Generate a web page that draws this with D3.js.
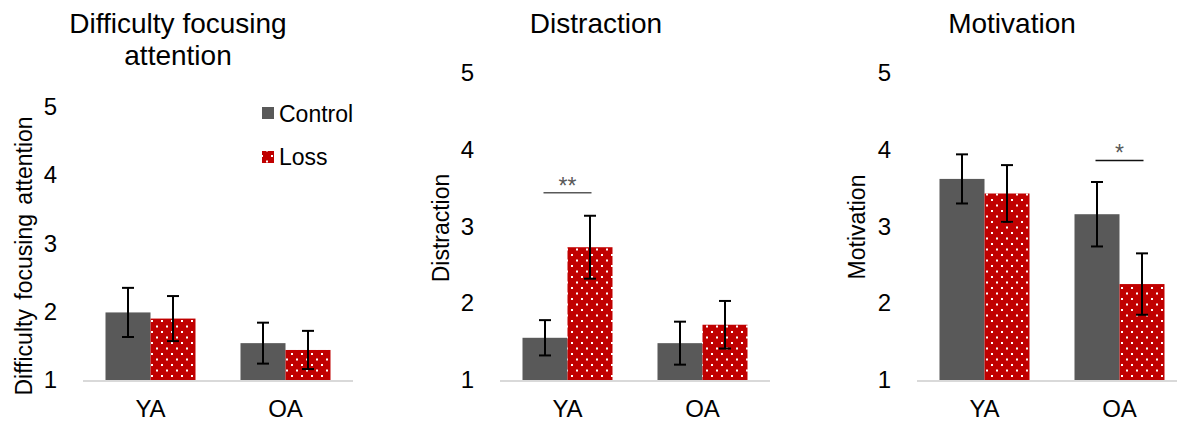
<!DOCTYPE html>
<html>
<head>
<meta charset="utf-8">
<script src="https://cdn.jsdelivr.net/npm/d3@7"></script>
<style>
  body { margin: 0; background: #fff; }
  svg { display: block; font-family: "Liberation Sans", Arial, sans-serif; }
</style>
</head>
<body>
<div id="graph"></div>
<script>
// Datos de la grafica
const grupos = ["YA", "OA"];
const series = ["Control", "Loss"];
const ticksY = [1, 2, 3, 4, 5];

// Medias y errores de cada panel: [grupo][serie]
const mediasDificultad = [[1.99, 1.90], [1.54, 1.44]];
const errDificultad = [[0.36, 0.33], [0.30, 0.28]];
const mediasDistraccion = [[1.55, 2.73], [1.48, 1.72]];
const errDistraccion = [[0.23, 0.41], [0.28, 0.31]];
const mediasMotivacion = [[3.62, 3.43], [3.16, 2.25]];
const errMotivacion = [[0.32, 0.37], [0.42, 0.40]];

// Marcas de significancia: grupo, texto y altura de la linea
const sigDistraccion = [{grupo: "YA", texto: "**", y: 3.44}];
const sigMotivacion = [{grupo: "OA", texto: "*", y: 3.86}];

// Colores
const colorControl = "#595959";
const colorLoss = "#c00000";

const W = 1177, H = 422;

// Configuracion de cada panel (solo posiciones)
const paneles = [
  {titulo: ["Difficulty focusing", "attention"], ejeY: "Difficulty focusing attention",
   medias: mediasDificultad, errores: errDificultad, sig: [], sigColor: "#595959",
   x0: 83, yTop: 107, tituloX: 178, ejeYx: 32, ejeYy: 256, leyenda: true},
  {titulo: ["Distraction"], ejeY: "Distraction",
   medias: mediasDistraccion, errores: errDistraccion, sig: sigDistraccion, sigColor: "#595959",
   x0: 500, yTop: 73, tituloX: 596, ejeYx: 449, ejeYy: 228, leyenda: false},
  {titulo: ["Motivation"], ejeY: "Motivation",
   medias: mediasMotivacion, errores: errMotivacion, sig: sigMotivacion, sigColor: "#111",
   x0: 917, yTop: 73, tituloX: 1012, ejeYx: 865, ejeYy: 227, leyenda: false}
];

const yBase = 380;
const anchoPlot = 270;

const svg = d3.select("#graph").append("svg")
  .attr("width", W)
  .attr("height", H);

// Patron de puntos blancos para la serie Loss
const patron = svg.append("defs").append("pattern")
  .attr("id", "puntos")
  .attr("patternUnits", "userSpaceOnUse")
  .attr("width", 10)
  .attr("height", 11);
patron.append("rect").attr("width", 10).attr("height", 11).attr("fill", colorLoss);
patron.append("rect").attr("x", 1).attr("y", 1).attr("width", 2).attr("height", 2).attr("fill", "#fff");
patron.append("rect").attr("x", 6).attr("y", 6.5).attr("width", 2).attr("height", 2).attr("fill", "#fff");

function relleno(i) {
  return i === 0 ? colorControl : "url(#puntos)";
}

// Funcion que dibuja un panel
function dibujarPanel(p) {
  const g = svg.append("g");

  const xScale = d3.scaleBand()
    .domain(grupos)
    .range([p.x0, p.x0 + anchoPlot])
    .paddingInner(1 / 3)
    .paddingOuter(1 / 6);

  const xSerie = d3.scaleBand()
    .domain(series)
    .range([0, xScale.bandwidth()]);

  const yScale = d3.scaleLinear()
    .domain([1, 5])
    .range([yBase, p.yTop]);

  // Titulo
  p.titulo.forEach((t, i) => {
    g.append("text")
      .attr("x", p.tituloX)
      .attr("y", 33 + i * 32)
      .attr("text-anchor", "middle")
      .attr("font-size", 28)
      .attr("fill", "#000")
      .text(t);
  });

  // Titulo del eje Y
  g.append("text")
    .attr("transform", `translate(${p.ejeYx},${p.ejeYy}) rotate(-90)`)
    .attr("text-anchor", "middle")
    .attr("font-size", 23)
    .attr("word-spacing", p.leyenda ? 3 : 0)
    .attr("fill", "#000")
    .text(p.ejeY);

  // Etiquetas del eje Y (sin linea)
  const ejeY = g.append("g")
    .attr("transform", `translate(${p.x0},0)`)
    .call(d3.axisLeft(yScale).tickValues(ticksY).tickFormat(d3.format("d")).tickSize(0).tickPadding(26));
  ejeY.select(".domain").remove();
  ejeY.selectAll("text").attr("font-size", 24).attr("fill", "#000").attr("font-family", null);

  // Barras
  grupos.forEach((gr, gi) => {
    series.forEach((s, si) => {
      const v = p.medias[gi][si];
      g.append("rect")
        .attr("x", xScale(gr) + xSerie(s))
        .attr("y", yScale(v))
        .attr("width", xSerie.bandwidth())
        .attr("height", yScale(1) - yScale(v))
        .attr("fill", relleno(si));
    });
  });

  // Linea base del eje X
  g.append("line")
    .attr("x1", p.x0)
    .attr("x2", p.x0 + anchoPlot)
    .attr("y1", yBase + 1)
    .attr("y2", yBase + 1)
    .attr("stroke", "#d9d9d9")
    .attr("stroke-width", 2);

  // Barras de error
  grupos.forEach((gr, gi) => {
    series.forEach((s, si) => {
      const v = p.medias[gi][si];
      const e = p.errores[gi][si];
      const cx = xScale(gr) + xSerie(s) + xSerie.bandwidth() / 2;
      const eg = g.append("g").attr("stroke", "#000").attr("stroke-width", 2);
      eg.append("line").attr("x1", cx).attr("x2", cx).attr("y1", yScale(v - e)).attr("y2", yScale(v + e));
      eg.append("line").attr("x1", cx - 6).attr("x2", cx + 6).attr("y1", yScale(v - e)).attr("y2", yScale(v - e));
      eg.append("line").attr("x1", cx - 6).attr("x2", cx + 6).attr("y1", yScale(v + e)).attr("y2", yScale(v + e));
    });
  });

  // Etiquetas de categorias
  grupos.forEach(gr => {
    g.append("text")
      .attr("x", xScale(gr) + xScale.bandwidth() / 2)
      .attr("y", 417)
      .attr("text-anchor", "middle")
      .attr("font-size", 24)
      .attr("fill", "#000")
      .text(gr);
  });

  // Marcas de significancia
  p.sig.forEach(d => {
    const c = xScale(d.grupo) + xScale.bandwidth() / 2;
    g.append("line")
      .attr("x1", c - 24)
      .attr("x2", c + 24)
      .attr("y1", yScale(d.y))
      .attr("y2", yScale(d.y))
      .attr("stroke", p.sigColor)
      .attr("stroke-width", 1.5);
    g.append("text")
      .attr("x", c)
      .attr("y", yScale(d.y) + 1)
      .attr("text-anchor", "middle")
      .attr("font-size", 23)
      .attr("fill", "#595959")
      .text(d.texto);
  });

  // Leyenda
  if (p.leyenda) {
    const ley = g.append("g");
    series.forEach((s, si) => {
      ley.append("rect")
        .attr("x", 262)
        .attr("y", 107 + si * 44)
        .attr("width", 12)
        .attr("height", 12)
        .attr("fill", relleno(si));
      ley.append("text")
        .attr("x", 279)
        .attr("y", 122 + si * 43)
        .attr("font-size", 23)
        .attr("fill", "#000")
        .text(s);
    });
  }
}

paneles.forEach(dibujarPanel);
</script>
</body>
</html>
